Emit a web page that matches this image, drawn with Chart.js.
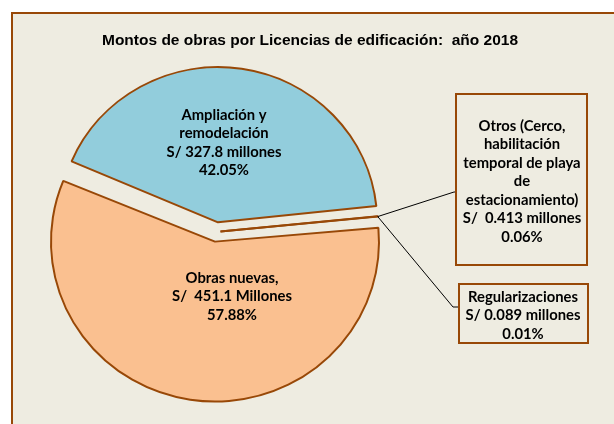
<!DOCTYPE html>
<html>
<head>
<meta charset="utf-8">
<script src="https://cdn.jsdelivr.net/npm/chart.js@4.4.1/dist/chart.umd.min.js"></script>
<style>
  html, body { margin: 0; padding: 0; background: #ffffff; }
  #wrap { width: 614px; height: 424px; }
</style>
</head>
<body>
<div id="wrap"><canvas id="pieChart" width="614" height="424"></canvas></div>
<script>
const chartTitle = "Montos de obras por Licencias de edificación:  año 2018";

const categories = [
  "Obras nuevas",
  "Ampliación y remodelación",
  "Regularizaciones",
  "Otros (Cerco, habilitación temporal de playa de estacionamiento)"
];
// montos en millones de soles
const amounts = [451.1, 327.8, 0.089, 0.413];
const amountLabels = ["S/  451.1 Millones", "S/ 327.8 millones", "S/ 0.089 millones", "S/  0.413 millones"];
const shareLabels = ["57.88%", "42.05%", "0.01%", "0.06%"];
const nameLines = [
  ["Obras nuevas,"],
  ["Ampliación y", "remodelación"],
  ["Regularizaciones"],
  ["Otros (Cerco,", "habilitación", "temporal de playa", "de", "estacionamiento)"]
];

const BROWN = "#984807";
const LABEL_FONT = "bold 14.8px Lato, 'Open Sans', sans-serif";
const LINE_H = 18.5;
// the original pie is a little flatter than round
const SQUASH = 0.975;
const SQUASH_Y = 231;

function labelLines(i) {
  return [...nameLines[i], amountLabels[i], shareLabels[i]];
}

function drawLines(ctx, lines, x, y) {
  lines.forEach((line, k) => ctx.fillText(line, x, y + k * LINE_H));
}

// tip of a thin slice, taken from the arc element itself
function arcTip(arc) {
  const mid = (arc.startAngle + arc.endAngle) / 2;
  const shift = (arc.options.offset || 0) / 4;
  const r = arc.outerRadius + 2 * shift;
  return {
    x: arc.x + Math.cos(mid) * r,
    y: SQUASH_Y + (arc.y + Math.sin(mid) * r - SQUASH_Y) * SQUASH
  };
}

const decorPlugin = {
  id: "decor",
  beforeDraw(chart) {
    const ctx = chart.ctx;
    ctx.save();
    ctx.fillStyle = "#EEECE1";
    ctx.fillRect(12, 13, 640, 440);
    ctx.strokeStyle = BROWN;
    ctx.lineWidth = 2;
    ctx.strokeRect(12, 13, 640, 440);
    ctx.fillStyle = "#000";
    ctx.textAlign = "center";
    ctx.textBaseline = "middle";
    ctx.font = "bold 15.5px 'Liberation Sans', Arial, sans-serif";
    ctx.fillText(chartTitle, 310, 41);
    ctx.restore();
  },
  beforeDatasetsDraw(chart) {
    const ctx = chart.ctx;
    ctx.save();
    ctx.translate(0, SQUASH_Y);
    ctx.scale(1, SQUASH);
    ctx.translate(0, -SQUASH_Y);
  },
  afterDatasetsDraw(chart) {
    chart.ctx.restore();
  },
  afterDraw(chart) {
    const ctx = chart.ctx;
    const arcs = chart.getDatasetMeta(0).data;
    ctx.save();

    // leader lines to the two small slices
    const tip = arcTip(arcs[3]);
    ctx.strokeStyle = "#000";
    ctx.lineWidth = 1;
    ctx.beginPath();
    ctx.moveTo(tip.x, tip.y);
    ctx.lineTo(454, 192);
    ctx.lineTo(456, 192);
    ctx.moveTo(tip.x, tip.y);
    ctx.lineTo(453, 307);
    ctx.lineTo(459, 307);
    ctx.stroke();

    // label boxes
    ctx.strokeStyle = BROWN;
    ctx.lineWidth = 2;
    ctx.strokeRect(456, 94, 131, 171);
    ctx.strokeRect(459, 284, 129, 59);

    ctx.fillStyle = "#000";
    ctx.textAlign = "center";
    ctx.textBaseline = "middle";
    ctx.font = LABEL_FONT;
    drawLines(ctx, labelLines(1), 224, 115);
    drawLines(ctx, labelLines(0), 232, 278);
    drawLines(ctx, labelLines(3), 522, 126);
    drawLines(ctx, labelLines(2), 523, 297);
    ctx.restore();
  }
};

new Chart(document.getElementById("pieChart"), {
  type: "pie",
  data: {
    labels: categories,
    datasets: [
      {
        data: amounts,
        backgroundColor: ["#FAC090", "#92CDDC", "#FAC090", "#FAC090"],
        borderColor: BROWN,
        borderWidth: 2,
        offset: [40, 40, 16, 16],
        radius: 154
      }
    ]
  },
  options: {
    responsive: false,
    animation: false,
    events: [],
    rotation: 84.5,
    layout: { padding: { left: 0, right: 181, top: 40, bottom: 0 } },
    plugins: {
      legend: { display: false },
      title: { display: false },
      tooltip: { enabled: false }
    }
  },
  plugins: [decorPlugin]
});
</script>
</body>
</html>
